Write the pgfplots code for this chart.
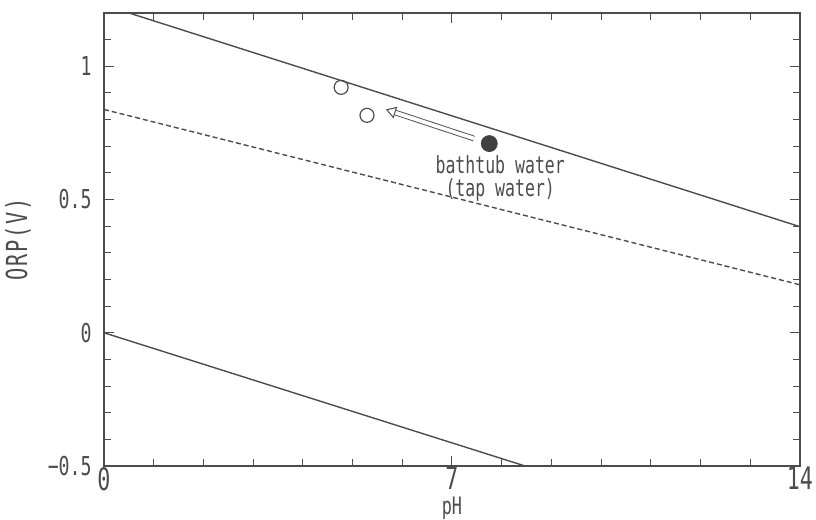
\documentclass[border=0pt]{standalone}
\usepackage{fontspec}
\setmainfont{DejaVu Sans Mono}[FakeStretch=0.7]
\usepackage{pgfplots}
\pgfplotsset{compat=1.18}
\usetikzlibrary{arrows.meta}
\definecolor{ink}{gray}{0.3}
\begin{document}
\begin{tikzpicture}
\begin{axis}[
  scale only axis, width=348pt, height=226.5pt,
  xmin=0, xmax=14, ymin=-0.5, ymax=1.2,
  xtick={0,7,14}, minor xtick={1,2,3,4,5,6,8,9,10,11,12,13},
  ytick={-0.5,0,0.5,1}, yticklabels={−0.5,0,0.5,1},
  minor ytick={-0.4,-0.3,-0.2,-0.1,0.1,0.2,0.3,0.4,0.6,0.7,0.8,0.9,1.1},
  tick align=inside, major tick length=5pt, minor tick length=3.5pt,
  axis line style={ink, line width=0.6pt},
  every tick/.style={ink, line width=0.5pt},
  /pgf/number format/assume math mode=true,
  xticklabel style={font=\fontsize{15.5}{15.5}\selectfont, text=ink, inner sep=0.5pt},
  yticklabel style={font=\fontsize{13}{13}\selectfont, text=ink, inner xsep=6pt, inner ysep=1pt},
  xlabel={pH}, ylabel={ORP(V)},
  xlabel style={at={(axis description cs:0.5,0)}, anchor=north, yshift=-15.5pt, inner sep=0pt,
    font=\fontsize{12}{12}\selectfont, text=ink},
  ylabel style={at={(axis description cs:-0.1236,0.5)}, anchor=center, inner sep=0pt,
    font=\fontsize{14.5}{14.5}\selectfont\addfontfeature{LetterSpace=6}, text=ink},
]
\addplot[ink, line width=0.7pt] coordinates {(0,1.23) (14,0.398)};
\addplot[ink, line width=0.7pt, dash pattern=on 2.5pt off 1.5pt] coordinates {(0,0.838) (14,0.18)};
\addplot[ink, line width=0.7pt] coordinates {(0,0) (8.47,-0.5)};
\addplot[only marks, mark=o, mark size=3.5pt, ink, mark options={line width=0.6pt}]
  coordinates {(4.77,0.921) (5.29,0.816)};
\addplot[only marks, mark=*, mark size=4pt, black!75] coordinates {(7.75,0.71)};
\draw[ink, line width=0.45pt, double=white, double distance=1.9pt,
  -{Triangle[open, length=5pt, width=6pt, line width=0.5pt]}]
  (axis cs:7.44,0.729) -- (axis cs:5.67,0.838);
\node[text=ink, align=center, font=\fontsize{11.8}{11.5}\selectfont]
  at (axis cs:7.97,0.58) {bathtub water\\(tap water)};
\end{axis}
\pgfresetboundingbox
\path ([shift={(-52pt,-27pt)}]current axis.south west) rectangle
      ([shift={(356pt,233pt)}]current axis.south west);
\end{tikzpicture}
\end{document}
